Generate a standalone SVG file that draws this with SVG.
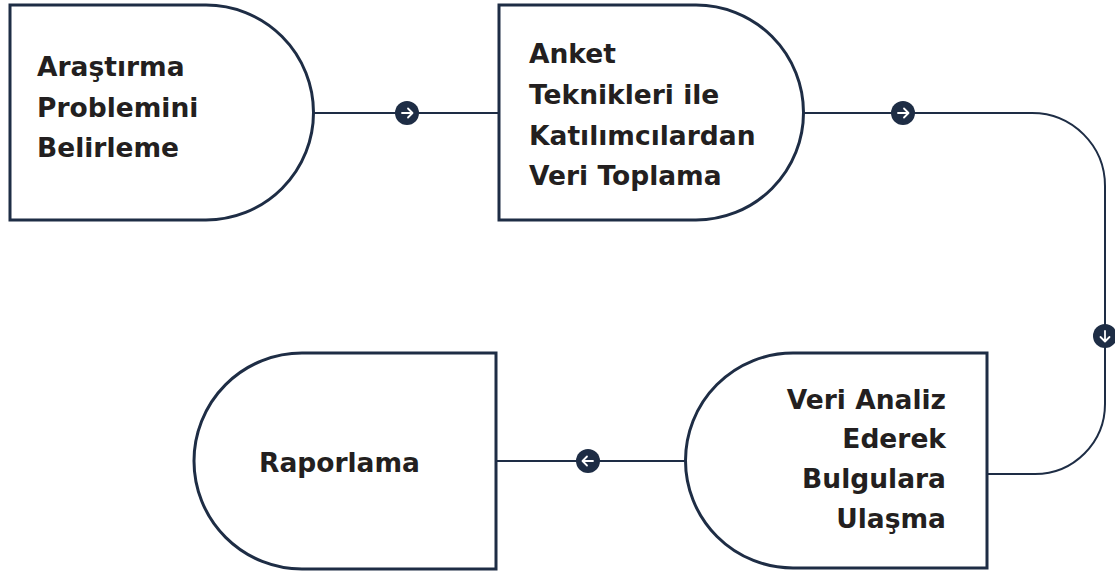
<svg xmlns="http://www.w3.org/2000/svg" width="1115" height="572" viewBox="0 0 1115 572">
<style>
.node{fill:#fff;stroke:#1e2d45;stroke-width:3}
.conn{fill:none;stroke:#1e2d45;stroke-width:2}
.dot{fill:#1e2d45}
.arr{fill:none;stroke:#fff;stroke-width:1.8;stroke-linecap:round;stroke-linejoin:round}
.t{font-family:"DejaVu Sans","Noto Sans",sans-serif;font-weight:700;font-size:26.5px;fill:#231f20}
</style>
<defs>
<g id="ar"><circle class="dot" r="12"/><path class="arr" d="M-5,0H5M1,-4.5L5.5,0L1,4.5"/></g>
</defs>
<g id="connectors">
<path class="conn" d="M313,113H500"/>
<path class="conn" d="M803,113H1032A73,73 0 0 1 1105,186V404A70,70 0 0 1 1035,474H987"/>
<path class="conn" d="M685,461H497"/>
<use href="#ar" x="407" y="113"/>
<use href="#ar" x="903" y="113"/>
<use href="#ar" transform="translate(1105,336) rotate(90)"/>
<use href="#ar" transform="translate(588,461) rotate(180)"/>
</g>
<g id="n1">
<path class="node" d="M10,5H206A107.5,107.5 0 0 1 206,220H10Z"/>
<text class="t"><tspan x="37" y="76">Araştırma</tspan><tspan x="37" y="117">Problemini</tspan><tspan x="37" y="157">Belirleme</tspan></text>
</g>
<g id="n2">
<path class="node" d="M499,5H696A107.5,107.5 0 0 1 696,220H499Z"/>
<text class="t"><tspan x="529" y="63">Anket</tspan><tspan x="529" y="104">Teknikleri ile</tspan><tspan x="529" y="145">Katılımcılardan</tspan><tspan x="529" y="185">Veri Toplama</tspan></text>
</g>
<g id="n4">
<path class="node" d="M987,353H793A107.5,107.5 0 0 0 793,568H987Z"/>
<text class="t" text-anchor="end"><tspan x="946" y="409">Veri Analiz</tspan><tspan x="946" y="448">Ederek</tspan><tspan x="946" y="488">Bulgulara</tspan><tspan x="946" y="528">Ulaşma</tspan></text>
</g>
<g id="n3">
<path class="node" d="M496,353H302A108,108 0 0 0 302,569H496Z"/>
<text class="t" x="259" y="472">Raporlama</text>
</g>
</svg>
